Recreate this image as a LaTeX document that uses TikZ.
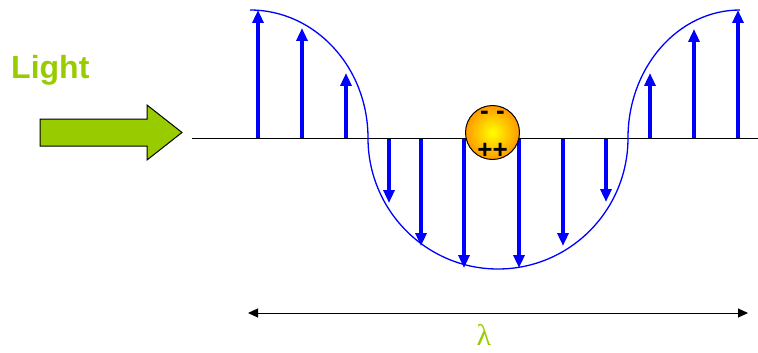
\documentclass[tikz,border=0pt]{standalone}
\usepackage{fontspec}
\setmainfont{Liberation Sans}
\newfontfamily\greekfont{Liberation Serif}
\usepackage{xcolor}
\usetikzlibrary{arrows.meta}
\usetikzlibrary{math, calc}
\definecolor{mygreen}{RGB}{153,204,0}
\definecolor{myblue}{RGB}{0,0,255}
\definecolor{myorange}{RGB}{255,153,0}

\begin{document}
\begin{tikzpicture}[x=1pt,y=-1pt,
  field/.style={-{Triangle[width=11pt,length=13pt]},line width=4pt,color=myblue},
  wave/.style={line width=1.3pt,color=myblue},
  charge/.style={font=\bfseries\fontsize{26}{26}\selectfont,inner sep=0pt}]
\tikzmath{
\Y=138; % axis height
\R=27;  % ball radius
}
\useasboundingbox (0,0) rectangle (758,353);

\coordinate (A1) at (192,\Y);
\coordinate (A2) at (758,\Y);
\coordinate (L1) at (248,313);
\coordinate (L2) at (748,313);
\coordinate (B) at (492.5,132.5);

% incoming light
\node[font=\bfseries\fontsize{32}{32}\selectfont,color=mygreen,anchor=base west,inner sep=0pt] (light) at (11,79) {Light};
\draw[line width=1pt,fill=mygreen] (40,119) -- (147,119) -- (147,105) -- (182,132.5)
  -- (147,160) -- (147,146) -- (40,146) -- cycle;

\draw[line width=1pt] (A1) -- (A2);

% electric field
\foreach \x/\y in {258/10, 302/28, 346/73, 650/73, 694/29, 738/10}
  \draw[field] (\x,\Y) -- (\x,\y);
\foreach \x/\y in {389/203, 421/246, 464/268, 519/268, 563/246, 606/202}
  \draw[field] (\x,\Y+1) -- (\x,\y);

\draw[wave] (250,10) arc[start angle=-90,end angle=0,x radius=118,y radius=128]
  arc[start angle=180,end angle=0,x radius=130,y radius=131]
  arc[start angle=180,end angle=270,x radius=112,y radius=128];

% charged particle
\shade[inner color=yellow,outer color=myorange,draw=black,line width=1pt] (B) circle (\R);
\node[charge] (minus) at ($(B)+(0,-17)$) {- -};
\node[charge] (plus) at ($(B)+(0,18)$) {++};

% wavelength
\draw[{Triangle[width=9pt,length=10pt]}-{Triangle[width=9pt,length=10pt]},line width=1pt] (L1) -- (L2);
\node[font=\greekfont\fontsize{30}{30}\selectfont,color=mygreen,anchor=base,inner sep=0pt] (lambda) at (484,345) {λ};

\end{tikzpicture}
\end{document}
